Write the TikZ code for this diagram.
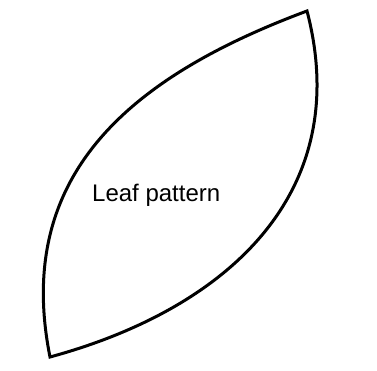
\documentclass[tikz,border=0pt]{standalone}
\usepackage{fontspec}
\setmainfont{Liberation Sans}
\begin{document}
\begin{tikzpicture}[x=1pt, y=1pt]
            \useasboundingbox (0, 0) rectangle (377, 371);
            \coordinate (bottomtip) at (50, 14);
            \coordinate (toptip) at (307, 360);
            \draw[line width=3pt, line join=miter] (bottomtip)
                .. controls (14, 194) and (127, 293) .. (toptip)
                .. controls (354, 180) and (230, 63) .. cycle;
            \node[anchor=base west, inner sep=0pt, font=\fontsize{24}{28}\selectfont] (leaflabel) at (92, 169) {Leaf pattern};
        \end{tikzpicture}
\end{document}
